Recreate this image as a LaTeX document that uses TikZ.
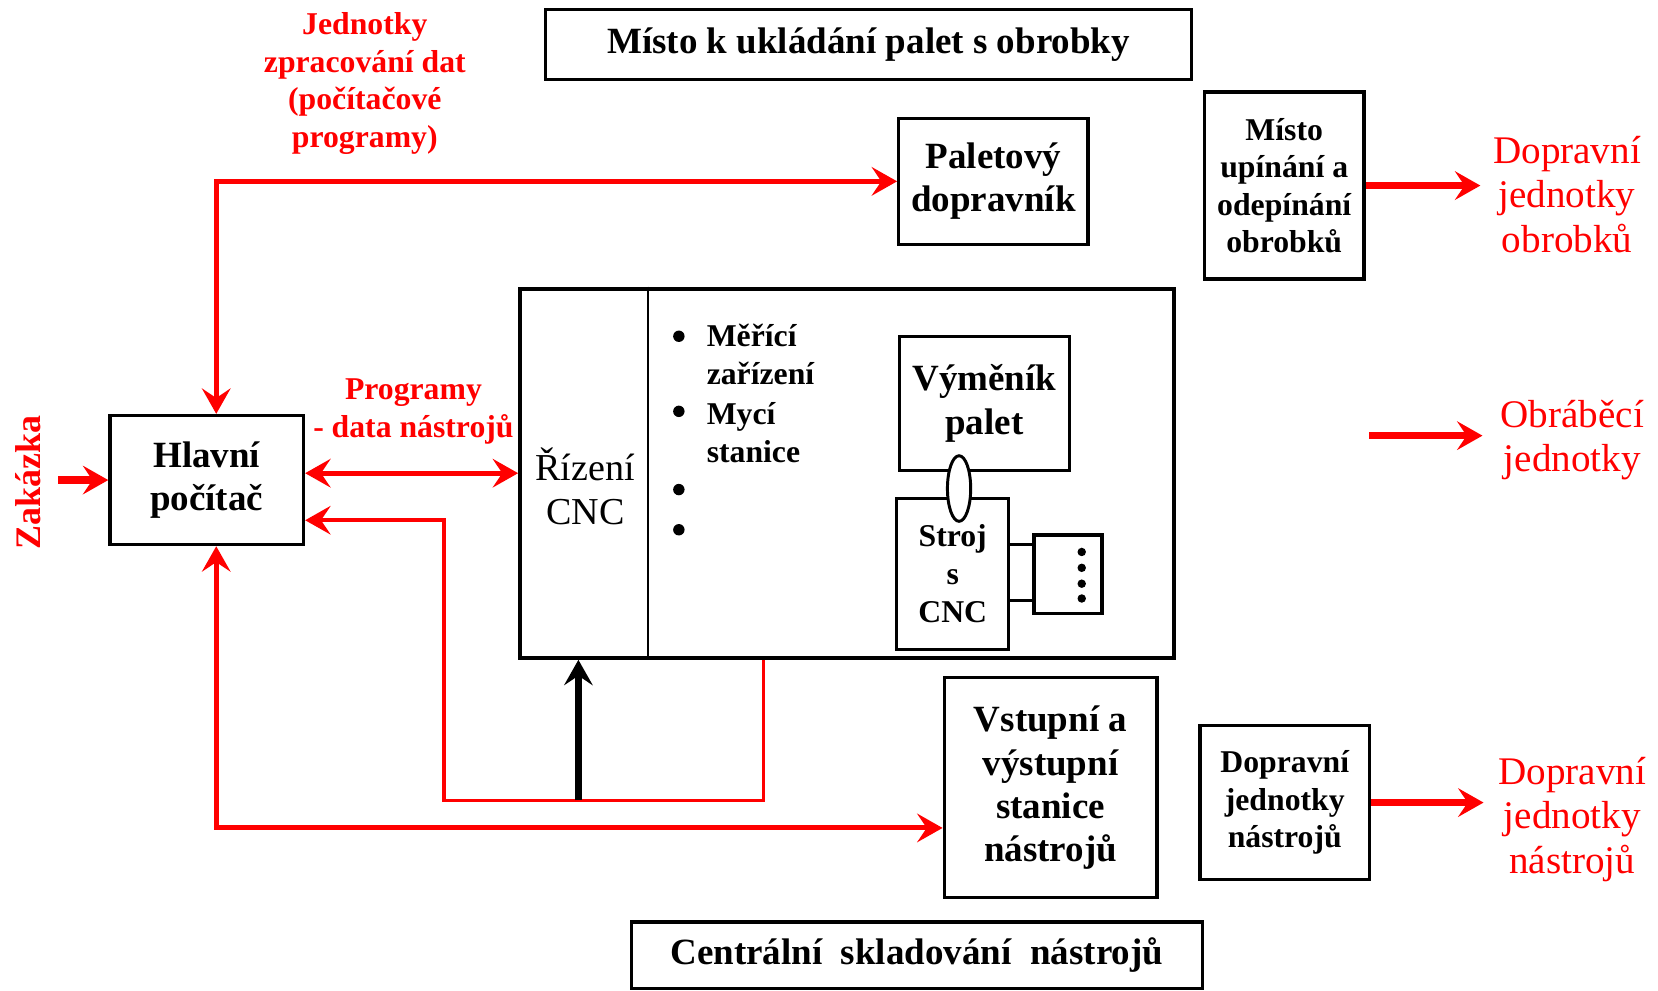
\documentclass[tikz,border=0pt]{standalone}
\usepackage{fontspec}
\setmainfont{Liberation Serif}
\usetikzlibrary{arrows.meta,shapes.geometric}

\begin{document}
\begin{tikzpicture}[x=0.5pt,y=-0.5pt,
	>={Stealth[length=12pt,width=13.5pt,inset=4.5pt]},
	box/.style={draw,line width=1.6pt,align=center,inner sep=0pt,font=\bfseries\fontsize{17.5}{20.5}\selectfont},
	smallbox/.style={box,font=\bfseries\fontsize{15}{17.75}\selectfont},
	redtext/.style={text=red,align=center,inner sep=0pt,font=\bfseries\fontsize{15}{17.75}\selectfont},
	outtext/.style={text=red,align=center,inner sep=0pt,font=\fontsize{18.5}{21}\selectfont},
	listtext/.style={align=left,inner sep=0pt,anchor=west,font=\bfseries\fontsize{15}{18}\selectfont},
	redline/.style={draw=red,line width=2.4pt},
	thinred/.style={draw=red,line width=1.7pt}]
		\useasboundingbox (0,0) rectangle (1568,937);
		\node[box,minimum width=305.5pt,minimum height=33pt] (ulozeni) at (821.5,42) {Místo k ukládání palet s obrobky};
		\node[box,minimum width=89.5pt,minimum height=59.5pt] (paletovy) at (939.5,171.5) {Paletový\\dopravník};
		\node[smallbox,minimum width=75.5pt,minimum height=88.5pt] (upinani) at (1214.5,175.5) {Místo\\upínání a\\odepínání\\obrobků};
		\node[box,minimum width=91.5pt,minimum height=61pt] (hlavni) at (195.5,454) {Hlavní\\počítač};
		\node[draw,line width=2pt,minimum width=309pt,minimum height=174.5pt,inner sep=0pt] (cnc) at (801,447.5) {};
		\draw[line width=1pt] ([xshift=61.5pt]cnc.north west) -- ([xshift=61.5pt]cnc.south west);
		\node[align=center,inner sep=0pt,font=\fontsize{18}{20.5}\selectfont] (rizeni) at (553.5,460) {Řízení\\CNC};
		\foreach \yy in {318,389,463,501}
			\fill (642,\yy) circle (2.7pt);
		\node[listtext] (mereni) at (668,335.5) {Měřící\\zařízení};
		\node[listtext] (myci) at (668,409) {Mycí\\stanice};
		\node[box,line width=1.4pt,minimum width=80pt,minimum height=63.5pt] (vymenik) at (931,381.5) {Výměník\\palet};
		\node[smallbox,line width=1.4pt,minimum width=53pt,minimum height=71.5pt] (stroj) at (901,542.5) {Stroj\\s\\CNC};
		\node[draw,ellipse,fill=white,line width=1.4pt,minimum width=11pt,minimum height=31pt,inner sep=0pt] (spojka) at (907,462) {};
		\node[draw,line width=1.6pt,minimum width=32pt,minimum height=37pt,inner sep=0pt] (zasobnik) at (1010,543) {};
		\foreach \yy in {515,568}
			\draw[line width=1.4pt] (stroj.east |- 0,\yy) -- (zasobnik.west |- 0,\yy);
		\foreach \dy in {-21,-6,9,23}
			\fill ([shift={(13,\dy)}]zasobnik.center) circle (2pt);
		\node[box,minimum width=100.5pt,minimum height=104pt] (vstupni) at (993.5,745) {Vstupní a\\výstupní\\stanice\\nástrojů};
		\node[smallbox,minimum width=80pt,minimum height=73pt] (dopravni) at (1215,759) {Dopravní\\jednotky\\nástrojů};
		\node[box,minimum width=270pt,minimum height=31.5pt] (centralni) at (867,903.5) {Centrální\ \ skladování\ \ nástrojů};

		\node[redtext] (jednotky) at (345,79) {Jednotky\\zpracování dat\\(počítačové\\programy)};
		\node[redtext] (programy) at (391,389) {Programy\\- data nástrojů};
		\node[redtext,font=\bfseries\fontsize{17}{20}\selectfont,rotate=90] (zakazka) at (27,456) {Zakázka};
		\node[outtext] (obrobkylbl) at (1482,184) {Dopravní\\jednotky\\obrobků};
		\node[outtext] (obrabecilbl) at (1487,416) {Obráběcí\\jednotky};
		\node[outtext] (nastrojelbl) at (1487,775) {Dopravní\\jednotky\\nástrojů};

		\coordinate (zin) at (55,454);
		\coordinate (outA) at (1400,175.5);
		\coordinate (obrA) at (1295,412);
		\coordinate (obrB) at (1402,412);
		\coordinate (outC) at (1403,759);
		\coordinate (fbR) at (722,757);
		\coordinate (fbL) at (420,757);
		\coordinate (fbM) at (547,757);

		\draw[redline,line width=3.5pt,->] (zin) -- (hlavni.west);
		\draw[redline,<->] ([xshift=4.5pt]hlavni.north) |- (paletovy.west);
		\draw[redline,<->] ([xshift=4.5pt]hlavni.south) |- ([yshift=-19pt]vstupni.west);
		\draw[redline,<->] (hlavni.east |- cnc.west) -- (cnc.west);
		\draw[thinred,->] (cnc.south -| fbR) -- (fbR) -- (fbL) |- ([yshift=-19pt]hlavni.east);
		\draw[line width=3.3pt,->] (fbM) -- (cnc.south -| fbM);
		\draw[redline,line width=3.3pt,->] (upinani.east) -- (outA);
		\draw[redline,line width=3.3pt,->] (obrA) -- (obrB);
		\draw[redline,line width=3.3pt,->] (dopravni.east) -- (outC);
	\end{tikzpicture}
\end{document}
